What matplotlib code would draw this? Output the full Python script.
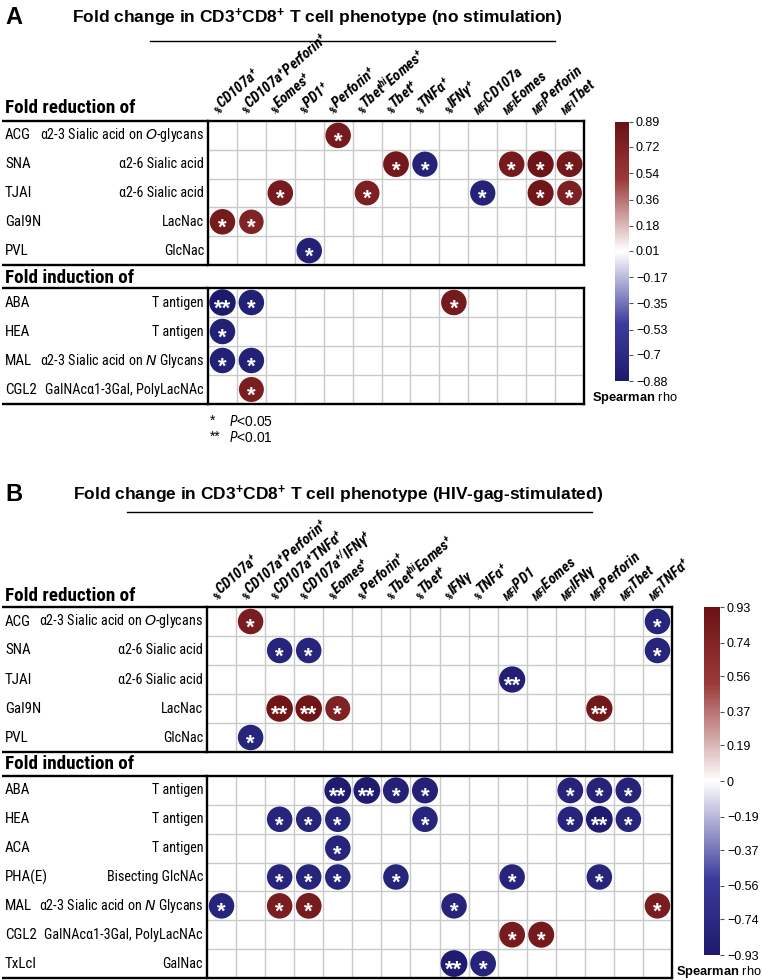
import os
import numpy as np
import matplotlib
matplotlib.use('Agg')
import matplotlib.pyplot as plt
from matplotlib import font_manager
from matplotlib.font_manager import FontProperties
from matplotlib.colors import LinearSegmentedColormap, Normalize
from matplotlib.cm import ScalarMappable
from matplotlib.transforms import blended_transform_factory, offset_copy

W, H = 762, 980
SANS = 'Liberation Sans'

# ---------- find a condensed sans family if one is installed ----------
def _wnum(w):
    if isinstance(w, str):
        return font_manager.weight_dict.get(w, 400)
    return int(w)


def _is_cond(f):
    fn = os.path.basename(f.fname).lower()
    nm = f.name.lower()
    st = str(f.stretch).lower()
    bad = ('extra' in fn or 'semi' in fn or 'ultra' in fn or 'semi' in st or 'extra' in st
           or 'ultra' in st or 'semi' in nm or 'extra' in nm)
    good = ('narrow' in nm or 'condensed' in nm or st == 'condensed' or 'condensed' in fn
            or 'narrow' in fn)
    return good and not bad


_cond = [f for f in font_manager.fontManager.ttflist if _is_cond(f)]
_prefs = ['liberation sans narrow', 'roboto condensed', 'noto sans', 'open sans', 'dejavu sans',
          'roboto', 'lato', 'inter']
COND = None
for p in _prefs:
    fam = [f for f in _cond if f.name.lower().startswith(p) and 'mono' not in f.name.lower()
           and 'display' not in f.name.lower()]
    if fam:
        COND = fam
        break


def _pick(bold, italic):
    if not COND:
        return None
    tw = 700 if bold else 400
    best = min(COND, key=lambda f: abs(_wnum(f.weight) - tw) / 100.0
               + (0 if (f.style != 'normal') == italic else 5))
    return best


def cfp(bold=False, italic=False):
    e = _pick(bold, italic)
    if e is None:
        return FontProperties(family=SANS, weight='bold' if bold else 'normal',
                              style='italic' if italic else 'normal')
    return FontProperties(fname=e.fname)


SC = 1.0 if COND else 0.86   # shrink if no condensed face available
FP_R = cfp()
FP_B = cfp(bold=True)
FP_BI = cfp(bold=True, italic=True)
_it = _pick(False, True)

plt.rcParams['font.family'] = [SANS, 'DejaVu Sans']
plt.rcParams['mathtext.fontset'] = 'custom'
plt.rcParams['mathtext.rm'] = SANS
plt.rcParams['mathtext.it'] = (_it.name + ':italic:stretch=condensed') if _it else SANS + ':italic'
plt.rcParams['mathtext.bf'] = SANS + ':bold'
plt.rcParams['mathtext.default'] = 'regular'

# ---------------- data ----------------
A_cols = [r'$_{\%}$CD107a$^{+}$', r'$_{\%}$CD107a$^{+}$Perforin$^{+}$', r'$_{\%}$Eomes$^{+}$',
          r'$_{\%}$PD1$^{+}$', r'$_{\%}$Perforin$^{+}$', r'$_{\%}$Tbet$^{hi}$Eomes$^{+}$',
          r'$_{\%}$Tbet$^{+}$', r'$_{\%}$TNFα$^{+}$', r'$_{\%}$IFNγ$^{+}$',
          r'$_{MFI}$CD107a', r'$_{MFI}$Eomes', r'$_{MFI}$Perforin', r'$_{MFI}$Tbet']
B_cols = [r'$_{\%}$CD107a$^{+}$', r'$_{\%}$CD107a$^{+}$Perforin$^{+}$', r'$_{\%}$CD107a$^{+}$TNFα$^{+}$',
          r'$_{\%}$CD107a$^{+/}$IFNγ$^{+}$', r'$_{\%}$Eomes$^{+}$', r'$_{\%}$Perforin$^{+}$',
          r'$_{\%}$Tbet$^{hi}$Eomes$^{+}$', r'$_{\%}$Tbet$^{+}$', r'$_{\%}$IFNγ', r'$_{\%}$TNFα$^{+}$',
          r'$_{MFI}$PD1', r'$_{MFI}$Eomes', r'$_{MFI}$IFNγ', r'$_{MFI}$Perforin', r'$_{MFI}$Tbet',
          r'$_{MFI}$TNFα$^{+}$']

red_lectins = ['ACG', 'SNA', 'TJAI', 'Gal9N', 'PVL']
red_specs = [r'α2-3 Sialic acid on $\mathit{O}$-glycans', 'α2-6 Sialic acid', 'α2-6 Sialic acid',
             'LacNac', 'GlcNac']
A_ind_lectins = ['ABA', 'HEA', 'MAL', 'CGL2']
A_ind_specs = ['T antigen', 'T antigen', r'α2-3 Sialic acid on $\mathit{N}$ Glycans',
               'GalNAcα1-3Gal, PolyLacNAc']
B_ind_lectins = ['ABA', 'HEA', 'ACA', 'PHA(E)', 'MAL', 'CGL2', 'TxLcl']
B_ind_specs = ['T antigen', 'T antigen', 'T antigen', 'Bisecting GlcNAc',
               r'α2-3 Sialic acid on $\mathit{N}$ Glycans', 'GalNAcα1-3Gal, PolyLacNAc', 'GalNac']

# panel A points (row index over both blocks, column index, rho, number of stars)
A_row = [0, 1, 1, 1, 1, 1, 2, 2, 2, 2, 2, 3, 3, 4, 5, 5, 5, 6, 7, 7, 8]
A_col = [4, 6, 7, 10, 11, 12, 2, 5, 9, 11, 12, 0, 1, 3, 0, 1, 8, 0, 0, 1, 1]
A_rho = [0.80, 0.82, -0.78, 0.80, 0.86, 0.82, 0.80, 0.74, -0.78, 0.84, 0.74, 0.80, 0.72,
         -0.80, -0.88, -0.80, 0.80, -0.80, -0.80, -0.80, 0.76]
A_sig = [1, 1, 1, 1, 1, 1, 1, 1, 1, 1, 1, 1, 1, 1, 2, 1, 1, 1, 1, 1, 1]

# panel B points
B_row = [0, 0, 1, 1, 1, 2, 3, 3, 3, 3, 4,
         5, 5, 5, 5, 5, 5, 5,
         6, 6, 6, 6, 6, 6, 6,
         7,
         8, 8, 8, 8, 8, 8,
         9, 9, 9, 9, 9,
         10, 10,
         11, 11]
B_col = [1, 15, 2, 3, 15, 10, 2, 3, 4, 13, 1,
         4, 5, 6, 7, 12, 13, 14,
         2, 3, 4, 7, 12, 13, 14,
         4,
         2, 3, 4, 6, 10, 13,
         0, 2, 3, 8, 15,
         10, 11,
         8, 9]
B_rho = [0.80, -0.80, -0.80, -0.80, -0.80, -0.86, 0.88, 0.88, 0.76, 0.86, -0.80,
         -0.90, -0.90, -0.84, -0.84, -0.82, -0.82, -0.82,
         -0.80, -0.80, -0.80, -0.80, -0.80, -0.90, -0.80,
         -0.80,
         -0.80, -0.80, -0.80, -0.80, -0.80, -0.80,
         -0.80, 0.80, 0.82, -0.80, 0.80,
         0.82, 0.84,
         -0.90, -0.82]
B_sig = [1, 1, 1, 1, 1, 2, 2, 2, 1, 2, 1,
         2, 2, 1, 1, 1, 1, 1,
         1, 1, 1, 1, 1, 2, 1,
         1,
         1, 1, 1, 1, 1, 1,
         1, 1, 1, 1, 1,
         1, 1,
         2, 1]

A_ticks = [0.89, 0.72, 0.54, 0.36, 0.18, 0.01, -0.17, -0.35, -0.53, -0.7, -0.88]
B_ticks = [0.93, 0.74, 0.56, 0.37, 0.19, 0, -0.19, -0.37, -0.56, -0.74, -0.93]

# ---------------- figure ----------------
cmap = LinearSegmentedColormap.from_list(
    'rb', [(0.0, '#1d1a6c'), (0.22, '#3d3c9c'), (0.5, '#ffffff'), (0.78, '#9c3a3a'), (1.0, '#6a1114')])

fig = plt.figure(figsize=(W / 100, H / 100), dpi=100)
ov = fig.add_axes([0, 0, 1, 1], zorder=10)
ov.set_xlim(0, W)
ov.set_ylim(H, 0)
ov.axis('off')
ov.patch.set_alpha(0)


def box(x0, y0, x1, y1):
    return [x0 / W, 1 - y1 / H, (x1 - x0) / W, (y1 - y0) / H]


def block(x0, x1, y0, y1, ncol, nrow):
    ax = fig.add_axes(box(x0, y0, x1, y1))
    ax.set_xlim(-0.5, ncol - 0.5)
    ax.set_ylim(nrow - 0.5, -0.5)
    for k in range(1, ncol):
        ax.axvline(k - 0.5, color='#c9c9c9', lw=1.0, zorder=1)
    for k in range(1, nrow):
        ax.axhline(k - 0.5, color='#c9c9c9', lw=1.0, zorder=1)
    ax.set_xticks([])
    ax.set_yticks([])
    for s in ax.spines.values():
        s.set_linewidth(1.7)
        s.set_color('black')
    ov.plot([2, x0], [y0, y0], color='black', lw=1.7, solid_capstyle='butt')
    ov.plot([2, x0], [y1, y1], color='black', lw=1.7, solid_capstyle='butt')
    return ax


def points(ax, rows, cols, rho, sig, r0, r1, norm):
    rows = np.asarray(rows)
    m = (rows >= r0) & (rows < r1)
    rr = rows[m] - r0
    cc = np.asarray(cols)[m]
    vv = np.asarray(rho)[m]
    ss = np.asarray(sig)[m]
    dpx = 15.5 + 12.5 * np.abs(vv)
    ax.scatter(cc, rr, s=(dpx * 0.72) ** 2, c=vv, cmap=cmap, norm=norm,
               edgecolors='none', zorder=3, clip_on=False)
    tr = offset_copy(ax.transData, fig=fig, x=0, y=-4.8, units='points')
    for c, r, s in zip(cc, rr, ss):
        ax.text(c, r, '*' * s, color='white', fontsize=16, fontweight='bold',
                ha='center', va='center', transform=tr, zorder=4, family=SANS)


def row_labels(ax, lectins, specs, x0):
    trans = blended_transform_factory(ov.transData, ax.transData)
    for i, (l, s) in enumerate(zip(lectins, specs)):
        ax.text(5, i, l, transform=trans, ha='left', va='center', fontproperties=FP_R,
                fontsize=10.8 * SC)
        ax.text(x0 - 4, i, s, transform=trans, ha='right', va='center', fontproperties=FP_R,
                fontsize=10.2 * SC)


def col_labels(ax, labels):
    tr = offset_copy(ax.transData, fig=fig, x=0, y=3, units='dots')
    for j, lab in enumerate(labels):
        ax.text(j - 0.1, -0.5, lab, transform=tr, rotation=41, rotation_mode='anchor',
                ha='left', va='bottom', fontproperties=FP_BI, fontsize=10.8 * SC)


def colorbar(x0, y0, x1, y1, norm, ticks):
    cax = fig.add_axes(box(x0, y0, x1, y1))
    cb = fig.colorbar(ScalarMappable(norm=norm, cmap=cmap), cax=cax)
    cb.outline.set_visible(False)
    labs = [('%g' % t).replace('-', '\u2212') for t in ticks]
    cb.set_ticks(ticks, labels=labs)
    cax.tick_params(axis='y', length=3, width=0.8, color='#555555', labelsize=9, pad=2)
    return cax


def panel(letter, title, title_x, title_y, ul, cols, cidx, rows, rho, sig, ind_lectins, ind_specs,
          gx0, gx1, b1, head2_y, b2, head1_y, cbbox, ticks, sp_xy):
    norm = Normalize(vmin=min(ticks), vmax=max(ticks))
    ov.text(5, title_y, letter, fontsize=17, fontweight='bold', ha='left', va='center')
    ov.text(title_x, title_y + 1, title, fontsize=12.5, fontweight='bold', ha='center', va='center')
    ov.plot([ul[0], ul[1]], [ul[2], ul[2]], color='black', lw=1.0)
    ov.text(5, head1_y, 'Fold reduction of', fontproperties=FP_B, fontsize=13.8 * SC,
            ha='left', va='center')
    ov.text(5, head2_y, 'Fold induction of', fontproperties=FP_B, fontsize=13.8 * SC,
            ha='left', va='center')
    n1 = len(red_lectins)
    n2 = len(ind_lectins)
    ax1 = block(gx0, gx1, b1[0], b1[1], len(cols), n1)
    ax2 = block(gx0, gx1, b2[0], b2[1], len(cols), n2)
    points(ax1, rows, cidx, rho, sig, 0, n1, norm)
    points(ax2, rows, cidx, rho, sig, n1, n1 + n2, norm)
    row_labels(ax1, red_lectins, red_specs, gx0)
    row_labels(ax2, ind_lectins, ind_specs, gx0)
    col_labels(ax1, cols)
    colorbar(*cbbox, norm, ticks)
    ov.text(sp_xy[0], sp_xy[1], r'$\mathbf{Spearman}$ rho', fontsize=9.3, ha='left', va='center')


panel('A', r'Fold change in CD3$^{+}$CD8$^{+}$ T cell phenotype (no stimulation)', 317, 17,
      (150, 555, 41), A_cols, A_col, A_row, A_rho, A_sig, A_ind_lectins, A_ind_specs,
      208, 584, (121, 265), 278, (288, 404), 108, (615, 122, 629, 381), A_ticks, (592, 398))

ov.text(210, 421, '*', fontsize=10, ha='left', va='center')
ov.text(229, 421, r'$\mathit{P}$<0.05', fontsize=10, ha='left', va='center')
ov.text(210, 437, '**', fontsize=10, ha='left', va='center')
ov.text(229, 437, r'$\mathit{P}$<0.01', fontsize=10, ha='left', va='center')

panel('B', r'Fold change in CD3$^{+}$CD8$^{+}$ T cell phenotype (HIV-gag-stimulated)', 338, 494,
      (127, 592, 512), B_cols, B_col, B_row, B_rho, B_sig, B_ind_lectins, B_ind_specs,
      207, 672, (607, 752), 764, (776, 978), 596, (704, 607, 720, 955), B_ticks, (676, 972))

fig.savefig('out.png', dpi=100)
